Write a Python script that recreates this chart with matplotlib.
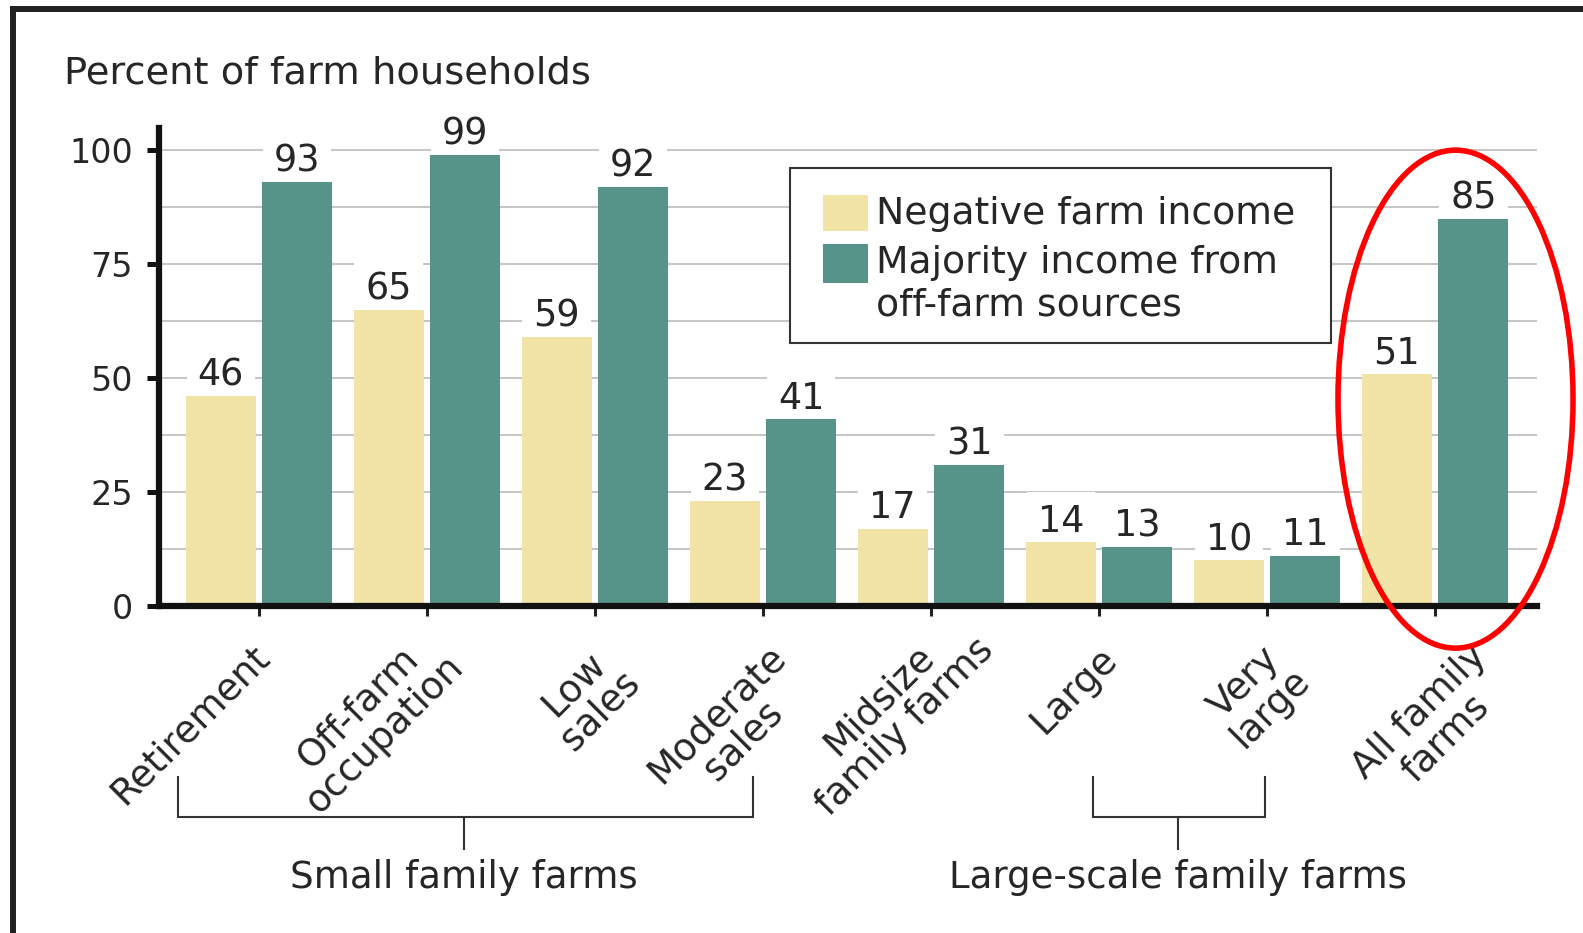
import matplotlib
matplotlib.use("Agg")
import matplotlib.pyplot as plt
from matplotlib.patches import Ellipse, Rectangle
from matplotlib.lines import Line2D
from matplotlib.transforms import ScaledTranslation

# data
categories = ["Retirement", "Off-farm\noccupation", "Low\nsales", "Moderate\nsales",
              "Midsize\nfamily farms", "Large", "Very\nlarge", "All family\nfarms"]
negative_income = [46, 65, 59, 23, 17, 14, 10, 51]
offfarm_majority = [93, 99, 92, 41, 31, 13, 11, 85]
series_names = ["Negative farm income", "Majority income from", "off-farm sources"]
y_ticks = [0, 25, 50, 75, 100]

# hand placement of the rotated category labels:
# top-right corner of each label, pixels right of the tick / below the axis line
label_anchor = [(-8, 33), (-8, 16), (0, 32), (4, 33), (18, -1), (0, 35), (-2, 30), (33, 32)]

yellow = "#f2e4a6"
green = "#56948a"
text_col = "#262626"

plt.rcParams["font.family"] = ["DejaVu Sans"]

W, H = 1583, 933
fig = plt.figure(figsize=(W / 100, H / 100), dpi=100)
ax = fig.add_axes([159 / W, 1 - 606 / H, (1537 - 159) / W, (606 - 127.6) / H])

x = list(range(len(categories)))
bw = 0.417
off = 0.228
ax.bar([i - off for i in x], negative_income, width=bw, color=yellow, zorder=2)
ax.bar([i + off for i in x], offfarm_majority, width=bw, color=green, zorder=2)

for i in x:
    for xi, v in ((i - off, negative_income[i]), (i + off, offfarm_majority[i])):
        ax.annotate(str(v), (xi, v), xytext=(0, 7.5), textcoords="offset points",
                    ha="center", va="baseline", fontsize=26.3, color=text_col, zorder=1,
                    bbox=dict(boxstyle="square,pad=0.3", fc="white", ec="none"))

ax.set_xlim(-0.595, 7.607)
ax.set_ylim(0, 105)
ax.set_yticks(y_ticks)
ax.set_yticks([12.5, 37.5, 62.5, 87.5], minor=True)
ax.set_axisbelow(True)
ax.yaxis.grid(True, which="both", color="#b5b5b5", lw=1.1)
ax.tick_params(axis="y", which="major", length=8.6, width=3.6, pad=10,
               labelsize=24, labelcolor=text_col, color="#111111")
ax.tick_params(axis="y", which="minor", length=0)
ax.tick_params(axis="x", length=7.2, width=2.2, pad=0, color="#222222")

ax.set_xticks(x)
ax.set_xticklabels(categories, rotation=45, ha="right", va="top",
                   rotation_mode="anchor", fontsize=27, color=text_col, linespacing=1.05)
for lab, (dx, dy) in zip(ax.get_xticklabels(), label_anchor):
    lab.set_multialignment("center")
    # with pad=0 the label sits at the tick end, 10 px below the axis line
    lab.set_transform(lab.get_transform() +
                      ScaledTranslation(dx / 100, -(dy - 10) / 100, fig.dpi_scale_trans))

for s in ["top", "right"]:
    ax.spines[s].set_visible(False)
for s in ["left", "bottom"]:
    ax.spines[s].set_linewidth(4.5)
    ax.spines[s].set_color("#111111")

# group brackets under the labels
bcol = "#333333"
for left, right, mid, label in ((-0.482, 2.940, 1.22, "Small family farms"),
                                (4.964, 5.988, 5.47, "Large-scale family farms")):
    ax.plot([left, left, right, right], [-37.5, -46.3, -46.3, -37.5],
            color=bcol, lw=1.5, clip_on=False, solid_joinstyle="miter")
    ax.plot([mid, mid], [-46.3, -53.3], color=bcol, lw=1.5, clip_on=False)
    ax.text(mid, -61.9, label, ha="center", va="baseline", fontsize=26.7, color=text_col)

# legend box
ax.add_patch(Rectangle((790 / W, 1 - 343 / H), 541 / W, 175 / H, transform=fig.transFigure,
                       fc="white", ec="#333333", lw=1.5, zorder=3))
ax.add_patch(Rectangle((823 / W, 1 - 231 / H), 45 / W, 36 / H, transform=fig.transFigure,
                       fc=yellow, ec="none", zorder=4))
ax.add_patch(Rectangle((823 / W, 1 - 283 / H), 45 / W, 39 / H, transform=fig.transFigure,
                       fc=green, ec="none", zorder=4))
for name, yb in zip(series_names, [224, 273, 316]):
    fig.text(876 / W, 1 - yb / H, name, va="baseline", ha="left", fontsize=27.2, color=text_col,
             zorder=5)

fig.text(64 / W, 1 - 83 / H, "Percent of farm households", va="baseline", ha="left",
         fontsize=27.6, color=text_col)

# red highlight around the last group
ax.add_patch(Ellipse((7.122, 45.4), 1.399, 109.3, fill=False, ec="#ff0000", lw=4,
                     clip_on=False, zorder=6))

# frame lines at top and left
fig.add_artist(Line2D([13 / W, 13 / W], [0, 1 - 9 / H], color="#222222", lw=4.3,
                      solid_capstyle="projecting"))
fig.add_artist(Line2D([13 / W, 1], [1 - 9 / H, 1 - 9 / H], color="#222222", lw=4.3,
                      solid_capstyle="projecting"))

fig.savefig("out.png", dpi=100)
